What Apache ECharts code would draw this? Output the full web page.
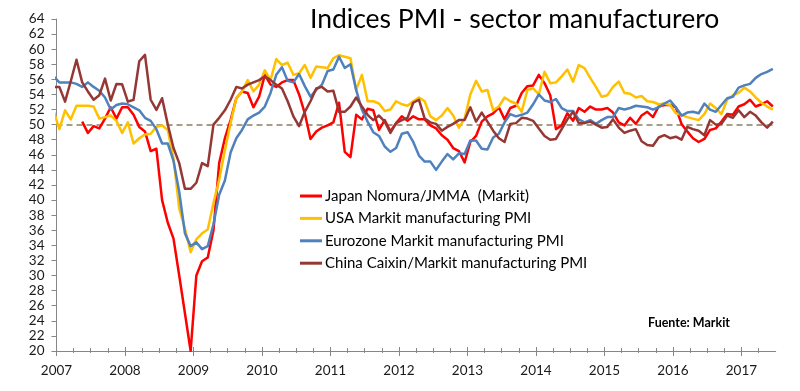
<!DOCTYPE html>
<html>
<head>
<meta charset="utf-8">
<script src="https://cdn.jsdelivr.net/npm/echarts@6/dist/echarts.min.js"></script>
<style>html,body{margin:0;padding:0;background:#fff}#c{width:800px;height:391px}</style>
</head>
<body>
<div id="c"></div>
<script>
// Monthly values, Dec 2006 (partly outside the axis) .. Jun 2017
const yearLabels = ['2007','2008','2009','2010','2011','2012','2013','2014','2015','2016','2017'];
const seriesNames = ['Japan Nomura/JMMA  (Markit)','USA Markit manufacturing PMI','Eurozone Markit manufacturing PMI','China Caixin/Markit manufacturing PMI'];
const japan = [null,
 null,null,null,null,50.4,48.9,49.8,49.5,50.8,52.3,50.8,52.3,
 52.3,51.3,49.7,49.1,46.5,46.8,40.0,37.0,34.9,30.0,25.0,20.0,
 30.0,31.9,32.4,36.0,44.9,48.2,50.6,53.5,54.4,54.2,52.3,53.7,
 56.6,55.3,55.0,55.6,55.9,55.9,54.0,51.5,48.1,49.1,49.6,49.9,
 50.3,52.9,46.4,45.7,51.3,50.7,52.1,51.9,49.3,50.6,49.1,50.2,
 51.1,50.5,51.1,50.7,50.7,49.9,49.5,48.6,48.0,46.9,46.5,45.0,
 47.7,48.5,50.4,51.1,51.5,52.3,50.7,52.2,52.5,54.2,55.1,55.2,
 56.6,55.5,53.9,49.4,49.9,51.5,50.5,52.2,51.7,52.4,52.0,52.0,
 52.2,51.6,50.3,49.9,50.9,50.1,51.2,51.7,51.0,52.4,52.6,52.6,
 52.3,50.1,49.1,48.2,47.7,48.1,49.3,49.5,50.4,51.4,51.3,52.4,
 52.7,53.3,52.4,52.7,53.1,52.4];
const usa = [51.8,
 49.4,51.9,50.7,52.5,52.5,52.5,52.4,50.8,51.0,51.2,50.5,48.9,
 50.3,47.5,48.2,48.7,48.8,49.7,49.9,49.3,45.5,38.9,36.2,33.1,
 34.8,35.6,36.1,39.6,42.7,46.6,50.2,53.5,54.4,55.9,54.4,55.3,
 57.2,55.9,58.7,57.9,58.2,56.6,56.8,57.9,56.2,57.7,57.6,57.5,
 58.8,59.2,59.0,58.8,54.6,56.6,53.1,53.1,52.8,51.8,52.0,53.1,
 52.7,52.5,53.1,53.6,53.1,51.1,50.6,51.2,52.2,51.2,49.6,50.8,
 54.0,55.8,54.4,54.6,51.9,52.4,53.6,53.1,52.8,51.7,54.6,54.8,
 54.0,57.0,55.5,55.6,56.4,57.3,55.7,57.9,57.5,56.2,55.0,53.7,
 53.9,55.0,55.7,54.2,54.1,53.6,53.8,53.1,53.0,52.7,52.8,52.6,
 51.5,51.3,51.0,50.8,50.6,51.4,52.8,52.2,51.4,53.3,53.9,54.2,
 54.9,54.4,53.6,52.9,52.4,52.0];
const eurozone = [56.4,
 55.6,55.6,55.6,55.4,55.0,55.6,55.0,54.5,53.6,52.0,52.6,52.8,
 52.7,52.3,51.9,50.9,50.5,49.4,47.5,47.5,45.2,41.1,35.6,33.9,
 34.4,33.5,33.9,36.8,40.7,42.6,46.3,48.2,49.3,50.7,51.2,51.6,
 52.4,54.2,56.6,57.6,55.8,55.6,56.7,55.1,53.7,54.6,55.3,57.1,
 57.3,59.0,57.5,58.0,54.6,52.0,50.4,49.0,48.5,47.1,46.4,46.9,
 48.8,49.0,47.7,45.9,45.1,45.1,44.0,45.1,46.1,45.4,46.2,46.1,
 47.9,47.9,46.8,46.7,48.3,48.8,50.3,51.4,51.1,51.3,51.6,52.7,
 54.0,53.2,53.0,53.4,52.2,51.8,51.8,50.7,50.3,50.6,50.1,50.6,
 51.0,51.0,52.2,52.0,52.2,52.5,52.4,52.3,52.0,52.3,52.8,53.2,
 52.3,51.2,51.6,51.7,51.5,52.8,52.0,51.7,52.6,53.5,53.7,54.9,
 55.2,55.4,56.2,56.7,57.0,57.4];
const china = [55.0,
 55.0,53.05,55.75,58.6,55.6,54.4,53.3,53.9,56.1,53.2,55.4,55.35,
 53.05,53.3,58.4,59.25,53.3,51.95,53.5,50.0,46.9,44.9,41.5,41.5,
 42.3,44.9,44.5,50.0,50.9,51.9,53.3,55.0,54.8,55.3,55.6,55.9,
 56.4,55.9,55.3,54.8,53.1,51.1,49.8,51.7,53.1,54.8,55.0,54.4,
 54.5,51.7,51.7,52.4,53.6,52.4,51.3,50.6,51.2,50.4,48.9,50.2,
 50.6,50.9,52.9,53.3,50.8,50.3,50.1,49.2,49.7,50.1,50.6,50.6,
 52.3,50.4,51.6,50.4,49.2,48.2,47.7,50.1,50.2,50.9,50.8,50.5,
 49.5,48.5,48.0,48.1,49.4,50.7,51.7,50.2,50.2,50.4,50.0,49.6,
 49.7,50.7,49.6,48.9,49.2,49.4,47.8,47.3,47.2,48.3,48.6,48.2,
 48.4,48.0,49.7,49.4,49.2,48.6,50.6,50.0,50.1,51.2,50.9,51.9,
 51.0,51.7,51.2,50.3,49.6,50.4];
const colors = ['#FF0000','#FFC000','#4F81BD','#953735'];
const threshold = 50;

// month index i (0 = Dec 2006) -> axis position in months since Jan 2007, centred in its month
function toPairs(arr){ return arr.map((v,i)=>[i-0.5, v]).filter(p=>p[1]!=null); }
const nMonths = yearLabels.length*12 - 6; // Jan 2007 .. Jun 2017 span
const majorTicks = yearLabels.map((_,k)=>k*12);
const minorTicks = [];
for (let m=3; m<nMonths; m+=3) if (m%12!==0) minorTicks.push(m);

const FONT = 'Lato, "Liberation Sans", sans-serif';
function tickAxis(vals, inside, len, showLine, showLabel){
  return {
    type:'value', min:0, max:nMonths, position:'bottom', offset:0,
    axisLine:{show:showLine, lineStyle:{color:'#868686', width:1}},
    axisTick:{show:true, customValues:vals, inside:inside, length:len, lineStyle:{color:'#868686', width:1}},
    axisLabel:{show:showLabel, customValues:majorTicks, margin:13, fontSize:13.5, fontFamily:FONT, color:'#1a1a1a',
      formatter:(v)=>yearLabels[Math.round(v/12)] || ''},
    splitLine:{show:false}
  };
}

const chart = echarts.init(document.getElementById('c'), null, {renderer:'canvas'});
const dataSets = [japan, usa, eurozone, china];
chart.setOption({
  animation:false,
  backgroundColor:'#fff',
  title:{text:'Indices PMI - sector manufacturero', left:310, top:6, padding:0,
    textStyle:{fontSize:26.5, fontWeight:'normal', color:'#000', fontFamily:FONT}},
  legend:{orient:'vertical', left:300, top:187.5, padding:0, itemGap:5.4, itemWidth:22, itemHeight:3,
    icon:'rect', data:seriesNames,
    textStyle:{fontSize:15, lineHeight:17, color:'#000', fontFamily:FONT, padding:[0,0,0,-2]}},
  grid:{left:56.5, right:24.3, top:19, bottom:40, containLabel:false},
  xAxis:[
    tickAxis(majorTicks, true, 4, true, true),
    tickAxis(majorTicks, false, 5, false, false),
    tickAxis(minorTicks, true, 3, false, false),
    tickAxis(minorTicks, false, 2, false, false)
  ],
  yAxis:{type:'value', min:20, max:64, interval:2,
    axisLine:{show:true, lineStyle:{color:'#868686'}},
    axisTick:{show:true, inside:false, length:5, lineStyle:{color:'#868686'}},
    axisLabel:{margin:12, fontSize:13.5, fontFamily:FONT, color:'#1a1a1a'},
    splitLine:{show:false}},
  graphic:[{type:'text', left:648, top:316,
    style:{text:'Fuente: Markit', font:'bold 12.5px '+FONT, fill:'#000'}}],
  series: dataSets.map((arr,k)=>({
    name:seriesNames[k], type:'line', xAxisIndex:0, data:toPairs(arr),
    showSymbol:false, symbol:'none', clip:true,
    lineStyle:{color:colors[k], width:2.5, join:'round'}, itemStyle:{color:colors[k]},
    markLine: k===0 ? {silent:true, symbol:'none', label:{show:false},
      lineStyle:{color:'#A59D84', width:2, type:[6,4]}, data:[{yAxis:threshold}], z:1} : undefined
  }))
});
</script>
</body>
</html>
